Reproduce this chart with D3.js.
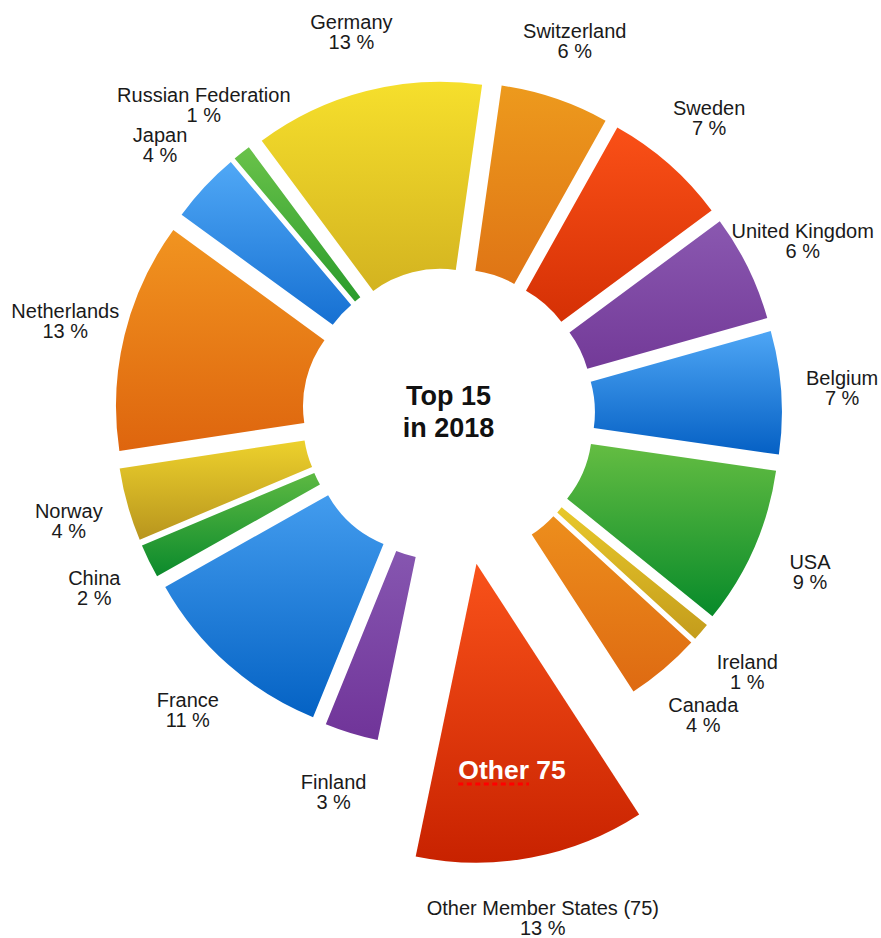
<!DOCTYPE html>
<html>
<head>
<meta charset="utf-8">
<script src="https://cdn.jsdelivr.net/npm/d3@7"></script>
<style>
  html, body { margin: 0; padding: 0; background: #ffffff; }
  svg { display: block; font-family: "Liberation Sans", Arial, Helvetica, sans-serif; }
</style>
</head>
<body>
<svg id="chart" width="881" height="938"></svg>
<script>
// ---- data (clockwise from Germany) ----
const countries = ["Germany", "Switzerland", "Sweden", "United Kingdom", "Belgium", "USA",
  "Ireland", "Canada", "Other Member States (75)", "Finland", "France", "China", "Norway",
  "Netherlands", "Japan", "Russian Federation"];
const shares = [12.9, 6.1, 7.0, 6.0, 6.9, 8.9, 1.0, 4.2, 12.9, 3.0, 11.1, 1.9, 4.1, 12.9, 4.0, 1.0];
const otherCategory = "Other Member States (75)";
const otherInsideLabel = ["Other", " 75"];
const centerTitle = ["Top 15", "in 2018"];

// ---- styles ----
const colorTop = ["#f6df2c", "#ed9a1d", "#fa5017", "#8a58b0", "#4ea6f5", "#64bd42",
  "#e8c82a", "#ed8e1c", "#f9521a", "#8656b0", "#439cee", "#5db942", "#edd12c",
  "#f19420", "#50a8f6", "#6ac24a"];
const colorBottom = ["#d3b320", "#df7415", "#d53005", "#733a98", "#0560c4", "#078a2a",
  "#c49c1c", "#de6a12", "#c82200", "#703499", "#0462c4", "#0b8a2c", "#b8951e",
  "#de650e", "#1670d2", "#2a9c2c"];

const cx = 448.5, cy = 414.3;
const innerR = 112, outerR = 299;
const explode = 34.5, otherExplode = 152;
const labelGap = 61;

const svg = d3.select("#chart");
const defs = svg.append("defs");
const g = svg.append("g").attr("transform", `translate(${cx},${cy})`);

const data = countries.map((c, i) => ({ name: c, value: shares[i], i }));
const startA = -36.6 * Math.PI / 180;
const pie = d3.pie().sort(null).value(d => d.value)
  .startAngle(startA).endAngle(startA + 2 * Math.PI);
const arcs = pie(data);

const ringArc = d3.arc().innerRadius(innerR).outerRadius(outerR);
const wedgeArc = d3.arc().innerRadius(0).outerRadius(outerR);

arcs.forEach(a => {
  const gr = defs.append("linearGradient").attr("id", "grad" + a.data.i)
    .attr("x1", 0).attr("y1", 0).attr("x2", 0).attr("y2", 1);
  gr.append("stop").attr("offset", "0%").attr("stop-color", colorTop[a.data.i]);
  gr.append("stop").attr("offset", "100%").attr("stop-color", colorBottom[a.data.i]);
});

function dir(a) {
  const m = (a.startAngle + a.endAngle) / 2;
  return [Math.sin(m), -Math.cos(m)];
}

arcs.forEach(a => {
  const isOther = a.data.name === otherCategory;
  const off = isOther ? otherExplode : explode;
  const [ux, uy] = dir(a);
  g.append("path")
    .attr("d", isOther ? wedgeArc(a) : ringArc(a))
    .attr("transform", `translate(${ux * off},${uy * off})`)
    .attr("fill", `url(#grad${a.data.i})`);

  // outside label
  const r = off + outerR + labelGap;
  const lx = ux * r, ly = uy * r;
  const t = g.append("text").attr("text-anchor", "middle")
    .attr("font-size", 20).attr("fill", "#1a1a1a");
  t.append("tspan").attr("x", lx).attr("y", ly - 3).text(a.data.name);
  t.append("tspan").attr("x", lx).attr("y", ly + 17).text(Math.round(a.data.value) + " %");

  if (isOther) {
    const ir = otherExplode + 0.7 * outerR;
    const ix = ux * ir - 3, iy = uy * ir;
    const it = g.append("text").attr("text-anchor", "middle")
      .attr("font-size", 26.5).attr("font-weight", "bold").attr("fill", "#ffffff")
      .attr("x", ix).attr("y", iy + 10)
      .text(otherInsideLabel.join(""));
    const node = it.node();
    const total = node.getComputedTextLength();
    const w1 = node.getSubStringLength(0, otherInsideLabel[0].length);
    const x0 = ix - total / 2;
    g.append("line")
      .attr("x1", x0).attr("x2", x0 + w1)
      .attr("y1", iy + 14.5).attr("y2", iy + 14.5)
      .attr("stroke", "#ff0000").attr("stroke-width", 3)
      .attr("stroke-dasharray", "5 3.5");
  }
});

// center title
const ct = g.append("text").attr("text-anchor", "middle")
  .attr("font-size", 27).attr("font-weight", "bold").attr("fill", "#111");
ct.append("tspan").attr("x", 0).attr("y", -9.3).text(centerTitle[0]);
ct.append("tspan").attr("x", 0).attr("y", 22.4).text(centerTitle[1]);
</script>
</body>
</html>
